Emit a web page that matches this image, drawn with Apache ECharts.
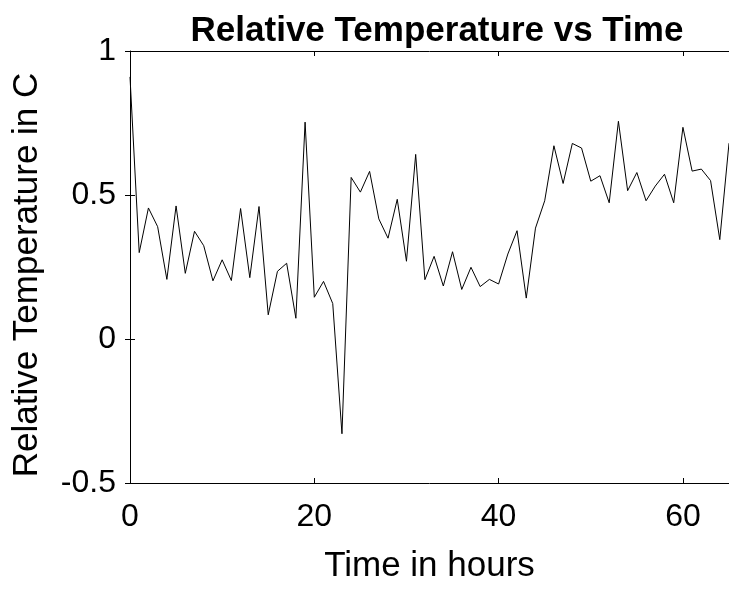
<!DOCTYPE html>
<html>
<head>
<meta charset="utf-8">
<script src="https://cdn.jsdelivr.net/npm/echarts@6/dist/echarts.min.js"></script>
<style>
html,body{margin:0;padding:0;background:#fff;}
#chart{width:729px;height:589px;}
</style>
</head>
<body>
<div id="chart"></div>
<script>
const hours = [0,1,2,3,4,5,6,7,8,9,10,11,12,13,14,15,16,17,18,19,20,21,22,23,24,25,26,27,28,29,30,31,32,33,34,35,36,37,38,39,40,41,42,43,44,45,46,47,48,49,50,51,52,53,54,55,56,57,58,59,60,61,62,63,64,65];
const temps = [0.91,0.30,0.455,0.39,0.207,0.462,0.228,0.374,0.324,0.202,0.275,0.203,0.453,0.213,0.46,0.084,0.235,0.263,0.072,0.753,0.145,0.20,0.123,-0.329,0.561,0.51,0.582,0.417,0.35,0.485,0.27,0.641,0.206,0.287,0.184,0.303,0.172,0.249,0.182,0.207,0.191,0.295,0.376,0.142,0.385,0.48,0.671,0.54,0.679,0.663,0.548,0.567,0.473,0.756,0.515,0.578,0.48,0.531,0.572,0.473,0.735,0.583,0.59,0.55,0.345,0.68];
const xTicks = {min: 0, max: 65, interval: 20};
const yTicks = {min: -0.5, max: 1, interval: 0.5};
const titleText = 'Relative Temperature vs Time';
const xName = 'Time in hours';
const yName = 'Relative Temperature in C';

const FONT = '"Liberation Sans", Arial, sans-serif';
const chart = echarts.init(document.getElementById('chart'));
const tickStyle = {show: true, inside: true, length: 5, lineStyle: {color: '#000', width: 1}};
const lineStyle = {show: true, onZero: false, lineStyle: {color: '#000', width: 1}};
chart.setOption({
  animation: false,
  backgroundColor: '#fff',
  title: {
    text: titleText,
    left: 432, top: 9, textAlign: 'center',
    textStyle: {fontFamily: FONT, fontWeight: 'bold', fontSize: 35, color: '#000'}
  },
  grid: {left: 130, right: -1, top: 51, bottom: 106, containLabel: false},
  xAxis: [{
    type: 'value', min: xTicks.min, max: xTicks.max, interval: xTicks.interval,
    position: 'bottom',
    axisLine: lineStyle, axisTick: tickStyle, splitLine: {show: false},
    axisLabel: {fontFamily: FONT, fontSize: 32, color: '#000', margin: 18, showMaxLabel: false},
    name: xName, nameLocation: 'middle', nameGap: 66,
    nameTextStyle: {fontFamily: FONT, fontSize: 35, color: '#000'}
  }, {
    type: 'value', min: xTicks.min, max: xTicks.max, interval: xTicks.interval,
    position: 'top',
    axisLine: lineStyle, axisTick: tickStyle, splitLine: {show: false},
    axisLabel: {show: false}
  }],
  yAxis: [{
    type: 'value', min: yTicks.min, max: yTicks.max, interval: yTicks.interval,
    position: 'left',
    axisLine: lineStyle, axisTick: tickStyle, splitLine: {show: false},
    axisLabel: {fontFamily: FONT, fontSize: 32, color: '#000', margin: 14},
    name: yName, nameLocation: 'middle', nameGap: 85,
    nameTextStyle: {fontFamily: FONT, fontSize: 35, color: '#000', padding: [0, 16, 0, 0]}
  }, {
    type: 'value', min: yTicks.min, max: yTicks.max, interval: yTicks.interval,
    position: 'right',
    axisLine: {show: false}, axisTick: tickStyle, splitLine: {show: false},
    axisLabel: {show: false}
  }],
  series: [{
    type: 'line',
    data: hours.map((h, i) => [h, temps[i]]),
    showSymbol: false,
    lineStyle: {color: '#000', width: 1},
    xAxisIndex: 0, yAxisIndex: 0
  }]
});
</script>
</body>
</html>
